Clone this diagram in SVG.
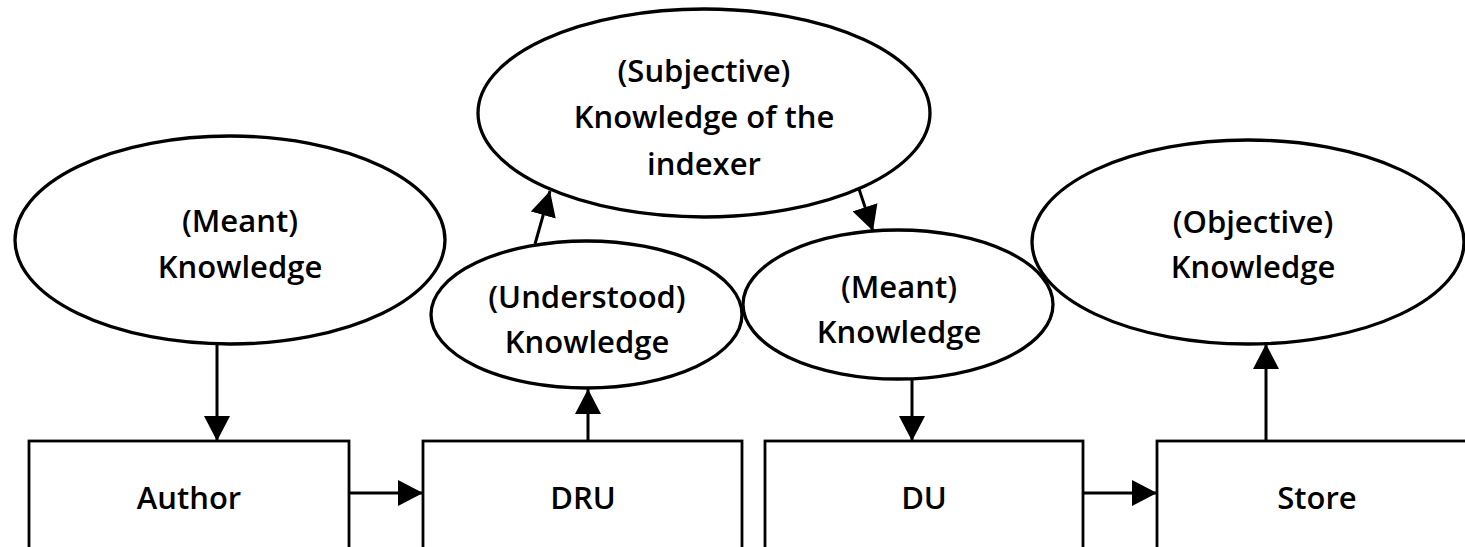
<svg xmlns="http://www.w3.org/2000/svg" width="1465" height="547" viewBox="0 0 1465 547">
<style>
.n ellipse{fill:none;stroke:#000;stroke-width:3.3}
.n rect{fill:#fff;stroke:#000;stroke-width:2.8}
text{font-family:"Open Sans","Liberation Sans",sans-serif;font-weight:600;font-size:31px;fill:#000;text-anchor:middle}
.c line{stroke:#000;stroke-width:3;marker-end:url(#ah)}
</style>
<defs>
<marker id="ah" markerUnits="userSpaceOnUse" markerWidth="25" markerHeight="26" viewBox="0 0 25 26" refX="25" refY="13" orient="auto">
<path d="M0,0 L25,13 L0,26 z" fill="#000"/>
</marker>
</defs>
<rect width="1465" height="547" fill="#fff"/>
<g id="author" class="n"><rect x="29" y="441" width="320" height="130"/><text x="189" y="509">Author</text></g>
<g id="dru" class="n"><rect x="423" y="441" width="319" height="130"/><text x="583" y="509">DRU</text></g>
<g id="du" class="n"><rect x="765" y="441" width="318" height="130"/><text x="924" y="509">DU</text></g>
<g id="store" class="n"><rect x="1157" y="441" width="320" height="130"/><text x="1317" y="509">Store</text></g>
<g id="meant-author" class="n"><ellipse cx="230" cy="240" rx="215" ry="104"/><text x="240" y="232">(Meant)</text><text x="240" y="278">Knowledge</text></g>
<g id="subjective" class="n"><ellipse cx="704" cy="113" rx="226" ry="104"/><text x="704" y="82">(Subjective)</text><text x="704" y="128">Knowledge of the</text><text x="704" y="175">indexer</text></g>
<g id="understood" class="n"><ellipse cx="586.5" cy="314.5" rx="155.5" ry="73.5"/><text x="587" y="308">(Understood)</text><text x="587" y="353">Knowledge</text></g>
<g id="meant-du" class="n"><ellipse cx="898" cy="304.5" rx="155" ry="74.5"/><text x="899" y="298">(Meant)</text><text x="899" y="343">Knowledge</text></g>
<g id="objective" class="n"><ellipse cx="1248" cy="242" rx="216" ry="102"/><text x="1253" y="233">(Objective)</text><text x="1253" y="278">Knowledge</text></g>
<g id="connectors" class="c">
<line x1="217" y1="344" x2="217" y2="441"/>
<line x1="349" y1="493" x2="423" y2="493"/>
<line x1="588" y1="441" x2="588" y2="389"/>
<line x1="535" y1="244" x2="550" y2="191"/>
<line x1="859" y1="189" x2="873" y2="231"/>
<line x1="912" y1="379" x2="912" y2="441"/>
<line x1="1083" y1="493" x2="1157" y2="493"/>
<line x1="1266" y1="441" x2="1266" y2="344"/>
</g>
</svg>
